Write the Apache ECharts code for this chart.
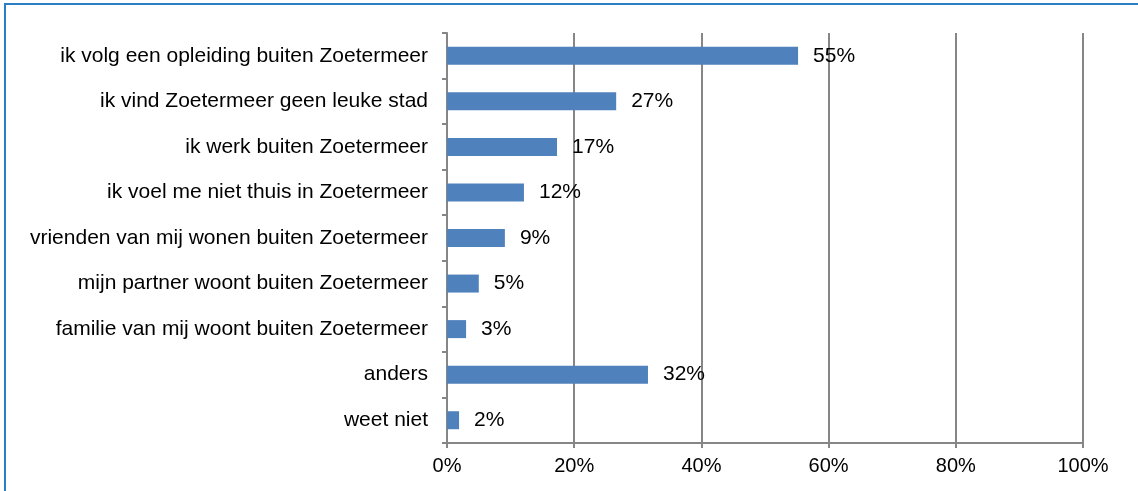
<!DOCTYPE html>
<html>
<head>
<meta charset="utf-8">
<script src="https://cdn.jsdelivr.net/npm/echarts@6/dist/echarts.min.js"></script>
<style>
  html, body { margin: 0; padding: 0; background: #fff; }
  #chart { width: 1138px; height: 491px; }
</style>
</head>
<body>
<div id="chart"></div>
<script>
// categories from top to bottom
const categories = [
  'ik volg een opleiding buiten Zoetermeer',
  'ik vind Zoetermeer geen leuke stad',
  'ik werk buiten Zoetermeer',
  'ik voel me niet thuis in Zoetermeer',
  'vrienden van mij wonen buiten Zoetermeer',
  'mijn partner woont buiten Zoetermeer',
  'familie van mij woont buiten Zoetermeer',
  'anders',
  'weet niet'
];
// percentages
const values = [55.2, 26.6, 17.3, 12.1, 9.1, 5.0, 3.0, 31.6, 1.9];
const xTicks = [0, 20, 40, 60, 80, 100];

const chart = echarts.init(document.getElementById('chart'));

const axisColor = '#868686';
const font = 'Arial, "Liberation Sans", sans-serif';

const option = {
  animation: false,
  graphic: [
    {
      type: 'rect',
      shape: { x: 5, y: 4, width: 1150, height: 520 },
      style: { fill: 'none', stroke: '#2a7fc4', lineWidth: 2 },
      silent: true
    }
  ],
  grid: {
    left: 447,
    right: 55,
    top: 33,
    bottom: 48,
    containLabel: false
  },
  xAxis: {
    type: 'value',
    min: xTicks[0],
    max: xTicks[xTicks.length - 1],
    interval: 20,
    axisLine: { show: true, lineStyle: { color: axisColor, width: 2 } },
    axisTick: { show: true, length: 5, lineStyle: { color: axisColor, width: 2 } },
    splitLine: { show: true, lineStyle: { color: axisColor, width: 2 } },
    axisLabel: {
      color: '#000',
      fontSize: 20,
      fontFamily: font,
      margin: 13,
      formatter: v => v + '%'
    }
  },
  yAxis: {
    type: 'category',
    inverse: true,
    data: categories,
    axisLine: { show: true, lineStyle: { color: axisColor, width: 2 } },
    axisTick: { show: true, length: 5, lineStyle: { color: axisColor, width: 2 } },
    axisLabel: {
      color: '#000',
      fontSize: 21,
      fontFamily: font,
      margin: 19
    }
  },
  series: [
    {
      type: 'bar',
      data: values,
      barWidth: 18,
      itemStyle: { color: '#4f81bd' },
      label: {
        show: true,
        position: 'right',
        distance: 15,
        color: '#000',
        fontSize: 21,
        fontFamily: font,
        formatter: p => Math.round(p.value) + '%'
      }
    }
  ]
};

chart.setOption(option);
</script>
</body>
</html>
